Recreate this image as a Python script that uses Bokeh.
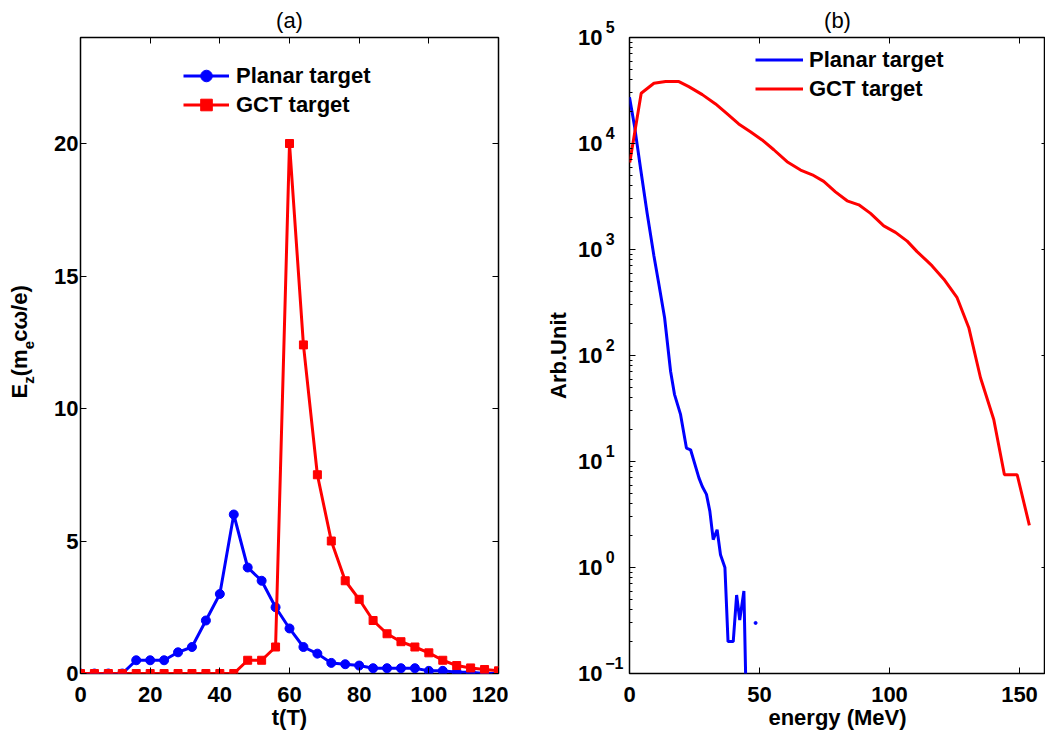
import numpy as np
from bokeh.plotting import figure
from bokeh.models import (Legend, LegendItem, LinearAxis, LogAxis, Range1d,
                          CustomJSTickFormatter, FixedTicker)
from bokeh.layouts import row
from bokeh.embed import file_html
from bokeh.resources import INLINE

FONT = "Liberation Sans"
FS = "22px"
BLUE = "#0000ff"
RED = "#ff0000"

# ---------------- data: panel (a) ----------------
t_T = list(range(0, 121, 4))
planar_ez = [0, 0, 0, 0, 0.5, 0.5, 0.5, 0.8, 1.0, 2.0, 3.0, 6.0, 4.0, 3.5, 2.5, 1.7,
             1.0, 0.75, 0.4, 0.35, 0.3, 0.2, 0.2, 0.2, 0.2, 0.1, 0.1, 0.05, 0.05, 0.0, 0.0]
gct_ez = [0, 0, 0, 0, 0, 0, 0, 0, 0, 0, 0, 0, 0.5, 0.5, 1.0, 20.0, 12.4, 7.5, 5.0, 3.5,
          2.8, 2.0, 1.5, 1.2, 1.0, 0.78, 0.5, 0.3, 0.21, 0.15, 0.1]
a_xticks = [0, 20, 40, 60, 80, 100, 120]
a_yticks = [0, 5, 10, 15, 20]

# ---------------- data: panel (b) ----------------
planar_E = [0, 2, 4.2, 6.8, 9.4, 11.3, 13.5, 15.8, 17.3, 19.6, 21.9, 23.5, 26.7, 28.0,
            29.6, 30.9, 32.2, 33.7, 35.0, 36.7, 37.9, 39.9, 41.2, 42.4, 44.0, 45.5]
planar_N = [27300, 14200, 5940, 2190, 870, 470, 227, 71, 43, 28, 13.4, 12.9, 7.0, 5.8,
            4.9, 3.4, 1.83, 2.27, 1.32, 1.0, 0.2, 0.2, 0.55, 0.32, 0.6, 0.01]
planar_dot_E = [48.5]
planar_dot_N = [0.3]
gct_E = [0.1, 4.5, 9.4, 13.9, 19, 22.8, 28, 33.1, 37.6, 42, 46.5, 51, 55.5, 60.6, 65.8,
         70.3, 74.7, 79.2, 83.7, 88.2, 92.7, 97.8, 102.3, 106.8, 110.6, 114.5, 116.4,
         120.9, 126, 130.5, 135, 140.1, 144.2, 149.1, 153.8]
gct_N = [6610, 29800, 37000, 38400, 38400, 34400, 28900, 23600, 19000, 15300, 12900,
         10800, 8730, 6730, 5620, 5070, 4390, 3500, 2880, 2640, 2190, 1670, 1450, 1200,
         955, 776, 700, 525, 351, 183, 61.7, 24.9, 7.5, 7.5, 2.5]
b_xticks = [0, 50, 100, 150]
b_decades = [-1, 0, 1, 2, 3, 4, 5]

FRAME_H = 636


def style_axis(ax, labels=True, ticks=True, size=FS):
    ax.major_tick_in = 6 if ticks else 0
    ax.major_tick_out = 0
    ax.minor_tick_in = 0
    ax.minor_tick_out = 0
    ax.axis_line_color = None
    ax.major_tick_line_color = "black" if ticks else None
    ax.minor_tick_line_color = None
    ax.major_tick_line_width = 1
    ax.major_label_text_font = FONT
    ax.major_label_text_font_style = "bold"
    ax.major_label_text_font_size = size
    ax.major_label_text_color = "black"
    ax.axis_label_text_font = FONT
    ax.axis_label_text_font_style = "bold"
    ax.axis_label_text_font_size = FS
    ax.axis_label_text_color = "black"
    if not labels:
        ax.formatter = CustomJSTickFormatter(code="return ''")
        ax.major_label_standoff = 0


def style_title(p, text):
    p.title.text = text
    p.title.align = "center"
    p.title.text_font = FONT
    p.title.text_font_style = "normal"
    p.title.text_font_size = FS
    p.title.text_color = "black"
    p.title.standoff = 10


def style_xaxis(p, label):
    ax = p.below[0]
    style_axis(ax)
    ax.major_label_standoff = 13
    ax.axis_label = label
    ax.axis_label_standoff = 0


# ================= panel (a) =================
p1 = figure(frame_width=418, frame_height=FRAME_H, x_range=Range1d(0, 120),
            y_range=Range1d(0, 24), output_backend="svg", toolbar_location=None,
            min_border_left=80, min_border_right=10, min_border_top=37,
            min_border_bottom=60)
p1.grid.visible = False
p1.outline_line_color = "black"
p1.outline_line_width = 1.5
style_title(p1, "(a)")
p1.below[0].ticker = FixedTicker(ticks=a_xticks)
style_xaxis(p1, "t(T)")
p1.left[0].ticker = FixedTicker(ticks=a_yticks)
style_axis(p1.left[0])
p1.left[0].major_label_standoff = 2
top1 = LinearAxis(ticker=FixedTicker(ticks=a_xticks))
style_axis(top1, labels=False)
p1.add_layout(top1, "above")
right1 = LinearAxis(ticker=FixedTicker(ticks=a_yticks))
style_axis(right1, labels=False)
p1.add_layout(right1, "right")

# y label  E_z(m_e cω/e), built from two label-only axes (main text + subscripts)
PX_PER_UNIT = FRAME_H / 24.0
lab_start = 10.38
main_parts = [("E", 0.667), ("(m", 1.222), ("cω/e)", 2.503)]
sub_parts = [("z", 0.5), ("e", 0.556)]
seq = [("m", 0), ("s", 0), ("m", 1), ("s", 1), ("m", 2)]
pos = 0.0
main_ticks, sub_ticks = [], []
for kind, i in seq:
    if kind == "m":
        w = main_parts[i][1] * 22
        main_ticks.append(lab_start + (pos + w / 2) / PX_PER_UNIT)
    else:
        w = sub_parts[i][1] * 15
        sub_ticks.append(lab_start + (pos + w / 2) / PX_PER_UNIT)
    pos += w

sub_ax = LinearAxis(ticker=FixedTicker(ticks=sub_ticks),
                    formatter=CustomJSTickFormatter(args=dict(labels=[s for s, _ in sub_parts]),
                                                    code="return labels[index]"))
style_axis(sub_ax, ticks=False, size="15px")
sub_ax.major_label_orientation = "parallel"
sub_ax.major_label_standoff = 14
p1.add_layout(sub_ax, "left")
main_ax = LinearAxis(ticker=FixedTicker(ticks=main_ticks),
                     formatter=CustomJSTickFormatter(args=dict(labels=[s for s, _ in main_parts]),
                                                     code="return labels[index]"))
style_axis(main_ax, ticks=False)
main_ax.major_label_orientation = "parallel"
main_ax.major_label_standoff = -15
p1.add_layout(main_ax, "left")

l1 = p1.line(t_T, planar_ez, line_color=BLUE, line_width=3)
s1 = p1.scatter(t_T, planar_ez, marker="circle", size=9, fill_color=BLUE, line_color=BLUE)
l2 = p1.line(t_T, gct_ez, line_color=RED, line_width=3)
s2 = p1.scatter(t_T, gct_ez, marker="square", size=8, fill_color=RED, line_color=RED)

leg1 = Legend(items=[LegendItem(label="Planar target", renderers=[l1, s1]),
                     LegendItem(label="GCT target", renderers=[l2, s2])],
              location=(103, 554), glyph_width=46, glyph_height=29, label_standoff=7,
              spacing=0, padding=0, margin=0, border_line_color=None,
              background_fill_alpha=0, label_text_font=FONT, label_text_color="black",
              label_text_font_style="bold", label_text_font_size=FS)
p1.add_layout(leg1)

# ================= panel (b) =================
p2 = figure(frame_width=416, frame_height=FRAME_H, x_range=Range1d(0, 160),
            y_range=Range1d(0.1, 1e5), y_axis_type="log", output_backend="svg",
            toolbar_location=None, min_border_left=121, min_border_right=0,
            min_border_top=37, min_border_bottom=60)
p2.grid.visible = False
p2.outline_line_color = "black"
p2.outline_line_width = 1.5
style_title(p2, "(b)")
p2.below[0].ticker = FixedTicker(ticks=b_xticks)
style_xaxis(p2, "energy (MeV)")
decade_vals = [10.0 ** k for k in b_decades]
minor_vals = [m * 10.0 ** k for k in b_decades[:-1] for m in range(2, 10)]
p2.left[0].ticker = FixedTicker(ticks=decade_vals, minor_ticks=minor_vals)
style_axis(p2.left[0], labels=False)
p2.left[0].minor_tick_in = 3
p2.left[0].minor_tick_line_color = "black"
top2 = LinearAxis(ticker=FixedTicker(ticks=b_xticks))
style_axis(top2, labels=False)
p2.add_layout(top2, "above")
right2 = LogAxis(ticker=FixedTicker(ticks=decade_vals))
style_axis(right2, labels=False)
right2.major_tick_in = 4
p2.add_layout(right2, "right")

# log tick labels: exponent axis (inner) + "10" axis (outer)
exp_ax = LogAxis(ticker=FixedTicker(ticks=decade_vals),
                 formatter=CustomJSTickFormatter(code="""
const e = Math.round(Math.log10(tick));
const s = (e < 0 ? "\u2212" : "") + Math.abs(e);
return s + (e < 0 ? "" : "\u2007") + "\\n ";
"""))
style_axis(exp_ax, ticks=False, size="16px")
exp_ax.major_label_standoff = 6
p2.add_layout(exp_ax, "left")
ten_ax = LogAxis(ticker=FixedTicker(ticks=decade_vals),
                 formatter=CustomJSTickFormatter(code="return '10'"))
style_axis(ten_ax, ticks=False)
ten_ax.major_label_standoff = 0
ten_ax.axis_label = "Arb.Unit"
ten_ax.axis_label_standoff = 4
p2.add_layout(ten_ax, "left")

bl = p2.line(planar_E, planar_N, line_color=BLUE, line_width=3)
p2.scatter(planar_dot_E, planar_dot_N, marker="circle", size=3, fill_color=BLUE,
           line_color=BLUE)
rl = p2.line(gct_E, gct_N, line_color=RED, line_width=3)

leg2 = Legend(items=[LegendItem(label="Planar target", renderers=[bl]),
                     LegendItem(label="GCT target", renderers=[rl])],
              location=(126, 570), glyph_width=48, glyph_height=29, label_standoff=6,
              spacing=0, padding=0, margin=0, border_line_color=None,
              background_fill_alpha=0, label_text_font=FONT, label_text_color="black",
              label_text_font_style="bold", label_text_font_size=FS)
p2.add_layout(leg2)

layout = row(p1, p2)
open("out.html", "w").write(file_html(layout, INLINE))
